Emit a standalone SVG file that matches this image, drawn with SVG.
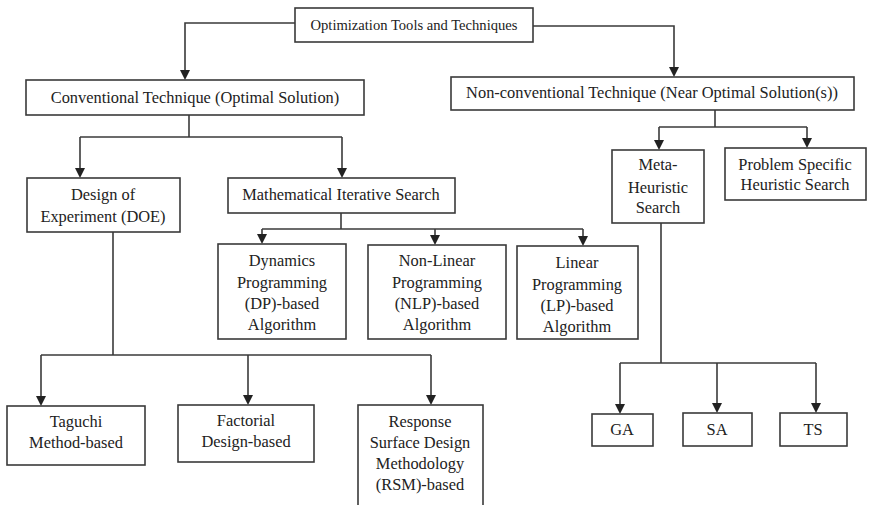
<svg xmlns="http://www.w3.org/2000/svg" width="870" height="505" viewBox="0 0 870 505">
<style>
.box{fill:#fff;stroke:#3a3a3a;stroke-width:1.6}
text{font-family:'Liberation Serif',serif;font-size:16.4px;fill:#222;text-anchor:middle}
text.s{font-size:14.6px}
.c{fill:none;stroke:#3a3a3a;stroke-width:1.6}
</style>
<g id="connectors">
<path class="c" d="M295,23 H185 V70"/>
<path class="c" d="M533,26 H674 V67"/>
<path class="c" d="M189,115 V137"/>
<path class="c" d="M80,137 H342"/>
<path class="c" d="M80,137 V168"/>
<path class="c" d="M342,137 V168"/>
<path class="c" d="M341,213 V229"/>
<path class="c" d="M262,229 H583"/>
<path class="c" d="M262,229 V234"/>
<path class="c" d="M435,229 V235"/>
<path class="c" d="M583,229 V236"/>
<path class="c" d="M113,232 V355"/>
<path class="c" d="M41,355 H431"/>
<path class="c" d="M41,355 V396"/>
<path class="c" d="M248,355 V395"/>
<path class="c" d="M431,355 V395"/>
<path class="c" d="M715,110 V127"/>
<path class="c" d="M659,127 H807"/>
<path class="c" d="M659,127 V140"/>
<path class="c" d="M807,127 V138"/>
<path class="c" d="M661,223 V363"/>
<path class="c" d="M620,363 H816"/>
<path class="c" d="M620,363 V404"/>
<path class="c" d="M717,363 V403"/>
<path class="c" d="M816,363 V403"/>
<g id="arrowheads" fill="#222">
<path d="M180,70 L190,70 L185,80 Z"/>
<path d="M669,67 L679,67 L674,77 Z"/>
<path d="M75,168 L85,168 L80,178 Z"/>
<path d="M337,168 L347,168 L342,178 Z"/>
<path d="M257,234 L267,234 L262,244 Z"/>
<path d="M430,235 L440,235 L435,245 Z"/>
<path d="M578,236 L588,236 L583,246 Z"/>
<path d="M36,396 L46,396 L41,406 Z"/>
<path d="M243,395 L253,395 L248,405 Z"/>
<path d="M426,395 L436,395 L431,405 Z"/>
<path d="M654,140 L664,140 L659,150 Z"/>
<path d="M802,138 L812,138 L807,148 Z"/>
<path d="M615,404 L625,404 L620,414 Z"/>
<path d="M712,403 L722,403 L717,413 Z"/>
<path d="M811,403 L821,403 L816,413 Z"/>
</g>
</g>
<g id="root"><rect class="box" x="295" y="8" width="238" height="34"/><text class="s" x="414" y="30">Optimization Tools and Techniques</text></g>
<g id="conventional"><rect class="box" x="26" y="80" width="338" height="35"/><text x="195" y="103">Conventional Technique (Optimal Solution)</text></g>
<g id="nonconventional"><rect class="box" x="451" y="77" width="403" height="33"/><text x="652" y="98">Non-conventional Technique (Near Optimal Solution(s))</text></g>
<g id="doe"><rect class="box" x="27" y="178" width="153" height="54"/><text x="103" y="200">Design of</text><text x="103" y="222">Experiment (DOE)</text></g>
<g id="mis"><rect class="box" x="228" y="178" width="227" height="35"/><text x="341" y="200">Mathematical Iterative Search</text></g>
<g id="dp"><rect class="box" x="218" y="244" width="128" height="95"/><text x="282" y="266">Dynamics</text><text x="282" y="288">Programming</text><text x="282" y="309">(DP)-based</text><text x="282" y="330">Algorithm</text></g>
<g id="nlp"><rect class="box" x="368" y="245" width="138" height="94"/><text x="437" y="266">Non-Linear</text><text x="437" y="288">Programming</text><text x="437" y="309">(NLP)-based</text><text x="437" y="330">Algorithm</text></g>
<g id="lp"><rect class="box" x="517" y="246" width="121" height="93"/><text x="577" y="268">Linear</text><text x="577" y="290">Programming</text><text x="577" y="311">(LP)-based</text><text x="577" y="332">Algorithm</text></g>
<g id="taguchi"><rect class="box" x="7" y="406" width="138" height="59"/><text x="76" y="427">Taguchi</text><text x="76" y="448">Method-based</text></g>
<g id="factorial"><rect class="box" x="178" y="405" width="136" height="57"/><text x="246" y="426">Factorial</text><text x="246" y="447">Design-based</text></g>
<g id="rsm"><rect class="box" x="358" y="405" width="125" height="110"/><text x="420" y="427">Response</text><text x="420" y="448">Surface Design</text><text x="420" y="469">Methodology</text><text x="420" y="490">(RSM)-based</text></g>
<g id="meta"><rect class="box" x="612" y="150" width="92" height="73"/><text x="658" y="170">Meta-</text><text x="658" y="193">Heuristic</text><text x="658" y="213">Search</text></g>
<g id="psh"><rect class="box" x="725" y="148" width="141" height="52"/><text x="795" y="170">Problem Specific</text><text x="795" y="190">Heuristic Search</text></g>
<g id="ga"><rect class="box" x="592" y="414" width="61" height="32"/><text x="622" y="435">GA</text></g>
<g id="sa"><rect class="box" x="683" y="413" width="69" height="33"/><text x="717" y="435">SA</text></g>
<g id="ts"><rect class="box" x="780" y="413" width="67" height="33"/><text x="813" y="435">TS</text></g>
</svg>
